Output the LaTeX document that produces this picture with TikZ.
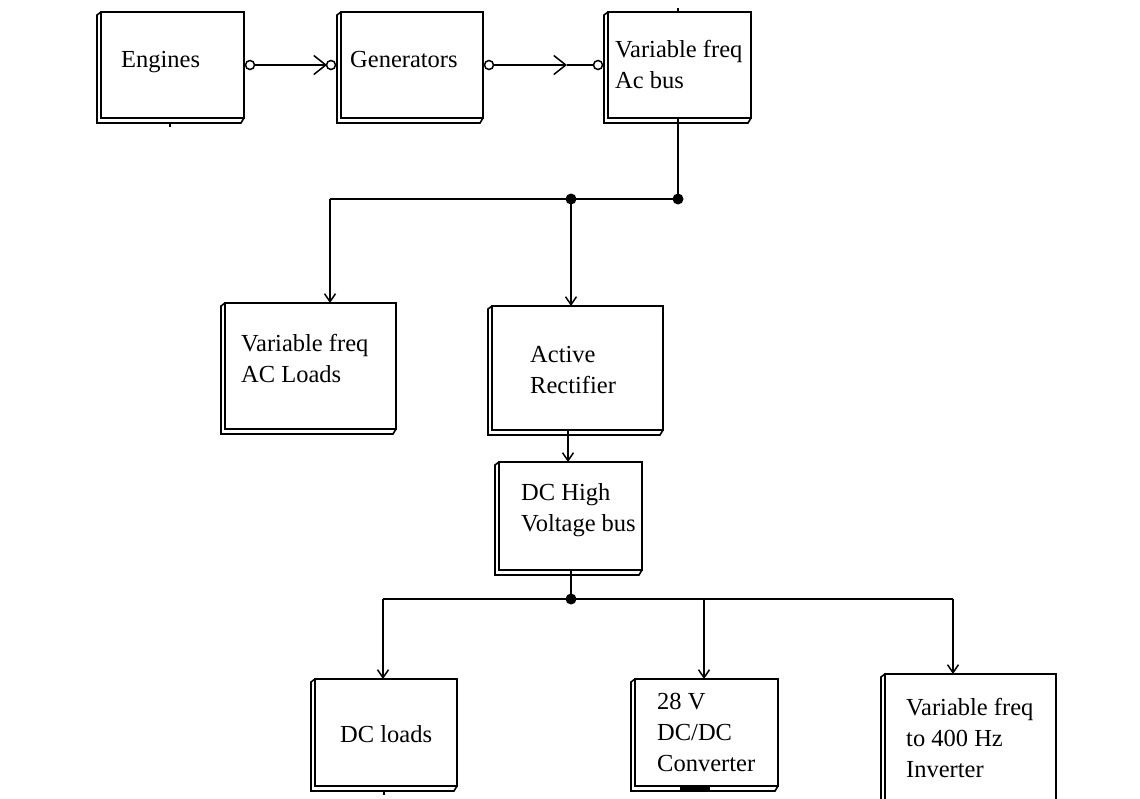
\documentclass[tikz,border=0pt]{standalone}
\usepackage{fontspec}
\setmainfont{Liberation Serif}
\usetikzlibrary{arrows.meta}
\newcommand\boxshade[1]{\draw[shad] (#1.north west) -- ++(-4,3) |- ([xshift=-3pt,yshift=-5pt]#1.south east) -- (#1.south east);}
\begin{document}
\begin{tikzpicture}[x=1pt,y=-1pt,
  blk/.style={draw, line width=2.3pt, fill=white, inner sep=0pt, outer sep=0pt},
  shad/.style={line width=1.6pt, line join=miter},
  lbl/.style={anchor=base west, align=left, inner sep=0pt, font=\fontsize{24.5}{31}\selectfont},
  wire/.style={line width=2pt},
  arr/.style={wire, -{Straight Barb[length=8pt,width=11pt,line width=1.5pt]}},
  harr/.style={wire, -{Straight Barb[length=12pt,width=19pt,line width=1.5pt]}},
  port/.style={circle, draw, line width=1.5pt, fill=white, inner sep=0pt, minimum size=9pt},
  dot/.style={circle, fill=black, inner sep=0pt, minimum size=11pt}]
\useasboundingbox (0,0) rectangle (1140,798);
\clip (0,0) rectangle (1140,798);

% boxes
\node[blk, minimum width=143, minimum height=106] (eng) at (172.5,65) {};
\node[blk, minimum width=142, minimum height=106] (gen) at (412,65) {};
\node[blk, minimum width=143, minimum height=106] (acbus) at (679.5,65) {};
\node[blk, minimum width=171, minimum height=126] (acl) at (310.5,366) {};
\node[blk, minimum width=171, minimum height=124] (rect) at (577.5,368) {};
\node[blk, minimum width=143, minimum height=108] (dchv) at (570.5,516) {};
\node[blk, minimum width=142, minimum height=107] (dcl) at (386,732.5) {};
\node[blk, minimum width=143, minimum height=107] (conv) at (706.5,732.5) {};
\node[blk, minimum width=171, minimum height=142] (inv) at (970.5,745) {};
\boxshade{eng}
\boxshade{gen}
\boxshade{acbus}
\boxshade{acl}
\boxshade{rect}
\boxshade{dchv}
\boxshade{dcl}
\boxshade{conv}
\boxshade{inv}

% labels (anchor = baseline of last line)
\node[lbl] (engt) at (121,67) {Engines};
\node[lbl] (gent) at (350,67) {Generators};
\node[lbl] (acbust) at (615,88) {Variable freq\\Ac bus};
\node[lbl] (aclt) at (241,382) {Variable freq\\AC Loads};
\node[lbl] (rectt) at (530,393) {Active\\Rectifier};
\node[lbl] (dchvt) at (521,531) {DC High\\Voltage bus};
\node[lbl] (dclt) at (340,742) {DC loads};
\node[lbl] (convt) at (657,771) {28 V\\DC/DC\\Converter};
\node[lbl] (invt) at (906,777) {Variable freq\\to 400 Hz\\Inverter};

% top chain
\node[port] (p1) at (250,65) {};
\node[port] (p2) at (331,65) {};
\node[port] (p3) at (489,65) {};
\node[port] (p4) at (598,65) {};
\coordinate (t1) at (327,65);
\coordinate (t2) at (567,65);
\draw[harr] (p1) -- (t1);
\draw[wire] (t1) -- (p2);
\draw[harr] (p3) -- (t2);
\draw[wire] (t2) -- (p4);

% AC distribution
\node[dot] (j1) at (678,199) {};
\node[dot] (j2) at (571,199) {};
\coordinate (j0) at (330,199);
\draw[wire] (acbus.south -| j1) -- (j1.center) -- (j0);
\draw[arr] (j0) -- (j0 |- acl.north);
\draw[arr] (j2.center) -- (j2 |- rect.north);
\coordinate (k) at (568,445);
\draw[arr] (k |- rect.south) -- (k |- dchv.north);

% DC distribution
\node[dot] (j3) at (571,599) {};
\coordinate (m1) at (383,599);
\coordinate (m2) at (704,599);
\coordinate (m3) at (953,599);
\draw[wire] (j3 |- dchv.south) -- (j3.center);
\draw[wire] (m1) -- (m3);
\draw[arr] (m1) -- (m1 |- dcl.north);
\draw[arr] (m2) -- (m2 |- conv.north);
\draw[arr] (m3) -- (m3 |- inv.north);

% small stubs
\draw[wire] (acbus.north -| j1) -- ++(0,-4);
\draw[wire] (170,123) -- (170,127);
\draw[wire] (384,790) -- (384,795);
\draw[line width=3pt] (680,788) -- (710,788);
\end{tikzpicture}
\end{document}
